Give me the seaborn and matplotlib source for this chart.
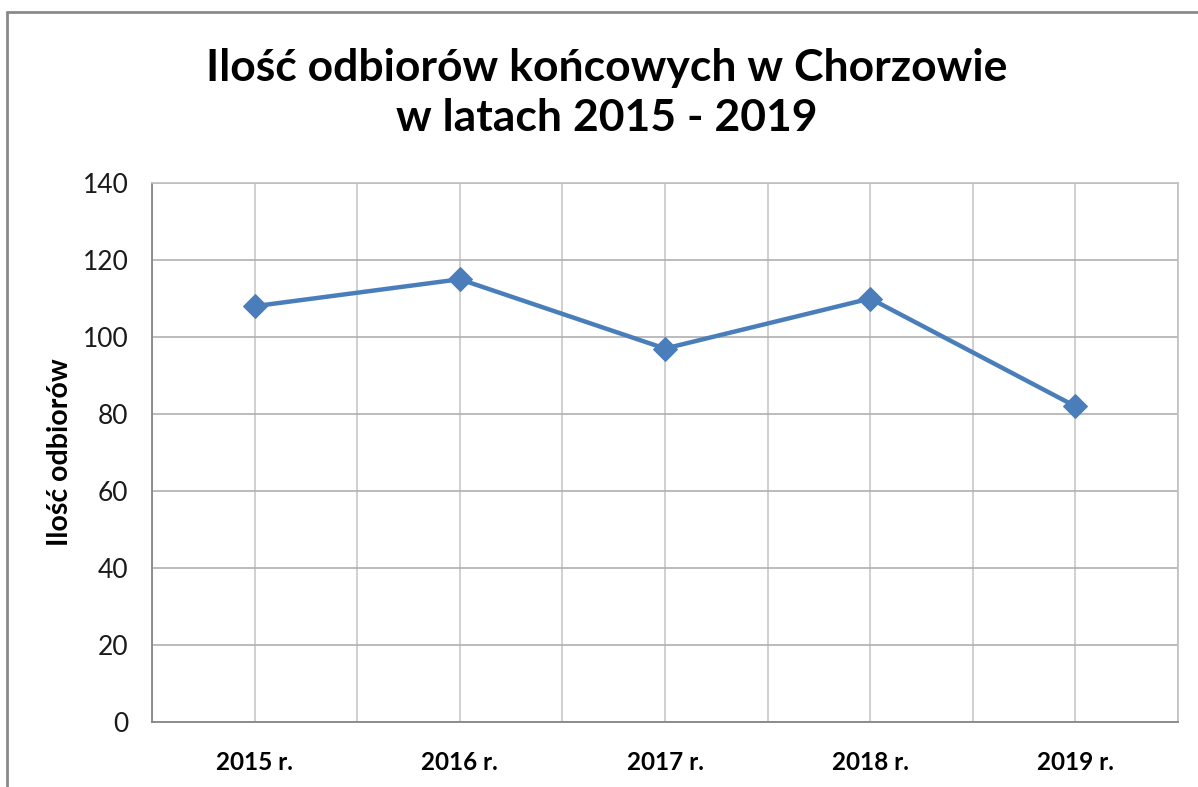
import numpy as np
import pandas as pd
import matplotlib
matplotlib.use('Agg')
import matplotlib.pyplot as plt
from matplotlib.lines import Line2D
import seaborn as sns

# dane
years = ['2015 r.', '2016 r.', '2017 r.', '2018 r.', '2019 r.']
odbiory = [108, 115, 97, 110, 82]
y_ticks = [0, 20, 40, 60, 80, 100, 120, 140]

df = pd.DataFrame({'rok': years, 'ilosc': odbiory})

sns.set_style('white')
plt.rcParams['font.family'] = ['Lato', 'DejaVu Sans']
plt.rcParams['text.color'] = 'black'

W, H = 1198, 787
fig = plt.figure(figsize=(W / 100, H / 100), dpi=100)
ax = fig.add_axes([152 / W, 1 - 722 / H, (1178 - 152) / W, (722 - 183) / H])

blue = '#4a7ebb'
sns.lineplot(data=df, x='rok', y='ilosc', ax=ax, sort=False, color=blue,
             linewidth=3.2, marker='D', markersize=12, markeredgecolor=blue)

ax.set_xlim(-0.5, len(years) - 0.5)
ax.set_ylim(0, 140)
ax.set_yticks(y_ticks)
ax.set_xticks(range(len(years)))
ax.set_xticklabels(years, fontsize=17.5, fontweight='bold', color='black')
ax.set_xticks(np.arange(-0.5, len(years), 1), minor=True)
ax.tick_params(axis='y', labelsize=19, length=0, pad=17, colors='#1a1a1a')
ax.tick_params(axis='x', which='both', length=0, pad=21)

ax.grid(True, axis='x', which='both', color='#c8c8c8', linewidth=1.2)
ax.grid(True, axis='y', which='major', color='#b0b0b0', linewidth=1.2)
ax.set_axisbelow(True)
for side in ['top', 'right']:
    ax.spines[side].set_color('#c0c0c0')
    ax.spines[side].set_linewidth(1.2)
for side in ['left', 'bottom']:
    ax.spines[side].set_color('#868686')
    ax.spines[side].set_linewidth(1.3)

ax.set_xlabel('')
ax.set_ylabel('Ilość odbiorów', fontsize=20.5, fontweight='bold', color='black')
ax.yaxis.set_label_coords(-79 / 1026, 0.5)

fig.text(607 / W, 1 - 68 / H, 'Ilość odbiorów końcowych w Chorzowie',
         ha='center', va='center', fontsize=32, fontweight='bold', color='black')
fig.text(607 / W, 1 - 118 / H, 'w latach 2015 - 2019',
         ha='center', va='center', fontsize=32, fontweight='bold', color='black')

# ramka wykresu
fig.add_artist(Line2D([7 / W, 1], [1 - 12 / H, 1 - 12 / H], color='#8a8a8a', linewidth=2))
fig.add_artist(Line2D([7 / W, 7 / W], [0, 1 - 12 / H], color='#8a8a8a', linewidth=2))

fig.savefig('out.png', dpi=100)
